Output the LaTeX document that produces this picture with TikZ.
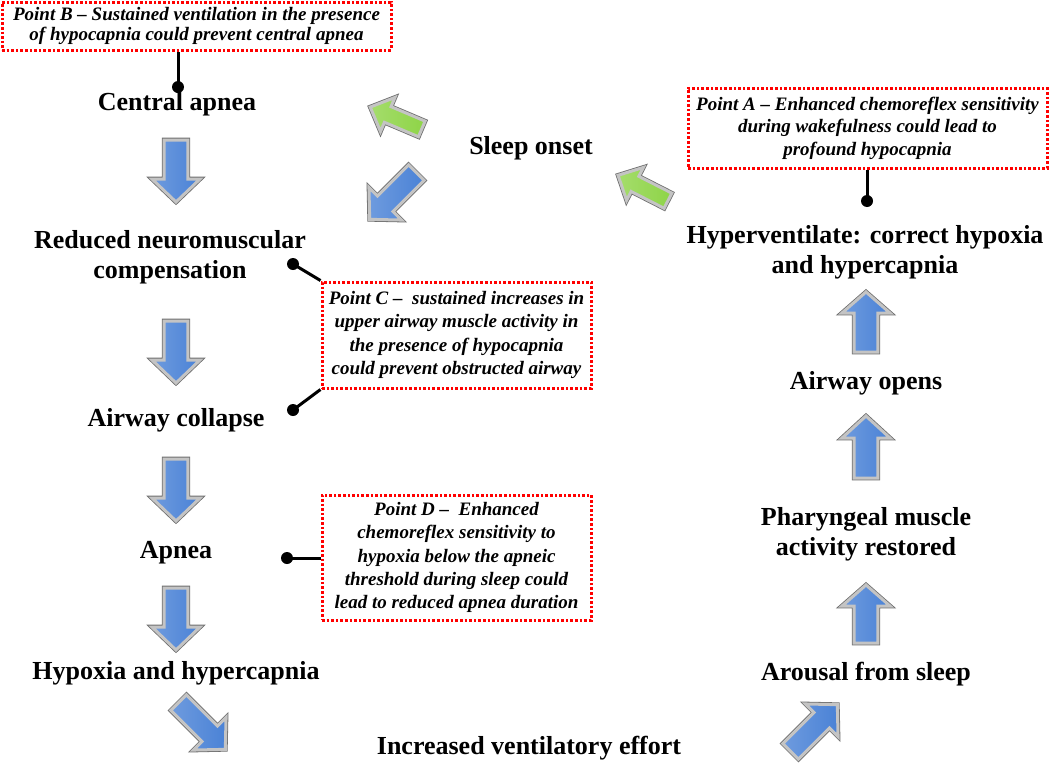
\documentclass[tikz,border=0pt]{standalone}
\usepackage{fontspec}
\setmainfont{Liberation Serif}
\definecolor{abl}{HTML}{4A82D6}
\definecolor{agr}{HTML}{8ED447}
\definecolor{bev}{HTML}{C4C4C4}
\definecolor{bevd}{HTML}{6E6E6E}
\newcommand\myarrow[8]{%
\begin{scope}[shift={(#1,#2)},rotate=#3]
\pgfmathsetmacro\hl{#4/2}\pgfmathsetmacro\hb{#4/2-#7}
\draw[bevd, line width=4.6pt, line join=miter]
 (-\hl,-#5) -- (\hb,-#5) -- (\hb,-#6) -- (\hl,0) -- (\hb,#6) -- (\hb,#5) -- (-\hl,#5) -- cycle;
\path[left color=#8!80!white, right color=#8, draw=bev, line width=3pt, line join=miter]
 (-\hl,-#5) -- (\hb,-#5) -- (\hb,-#6) -- (\hl,0) -- (\hb,#6) -- (\hb,#5) -- (-\hl,#5) -- cycle;
\end{scope}}
\tikzset{
  lbl/.style={font=\fontsize{26}{30}\selectfont\bfseries, align=center, inner sep=0pt},
  pbox/.style={draw=red, line width=3pt, dash pattern=on 2.6pt off 2pt, align=center,
    inner sep=0pt, font=\fontsize{19}{23.4}\selectfont\bfseries\itshape},
  pin/.style={line width=3pt, black},
}
\begin{document}
\begin{tikzpicture}[x=1pt,y=-1pt]
\useasboundingbox (0,0) rectangle (1050,763);
% labels
\node[lbl] (ca) at (177,104) {Central apnea};
\node[lbl] (rn) at (170,257) {Reduced neuromuscular\\compensation};
\node[lbl] (ac) at (176,420) {Airway collapse};
\node[lbl] (ap) at (176,553) {Apnea};
\node[lbl] (hh) at (176,673) {Hypoxia and hypercapnia};
\node[lbl] (ie) at (529,748) {Increased ventilatory effort};
\node[lbl] (as) at (866,674) {Arousal from sleep};
\node[lbl] (pm) at (866,534) {Pharyngeal muscle\\activity restored};
\node[lbl] (ao) at (866,383) {Airway opens};
\node[lbl] (hv) at (865,252) {Hyperventilate: correct hypoxia\\and hypercapnia};
\node[lbl] (so) at (531,148) {Sleep onset};
% boxes
\node[pbox, minimum width=389, minimum height=48, font=\fontsize{19}{20.5}\selectfont\bfseries\itshape] (B) at (196.5,26)
  {\raisebox{-2pt}{Point B -- Sustained ventilation in the presence}\\\raisebox{-2pt}{of hypocapnia could prevent central apnea}};
\node[pbox, minimum width=359, minimum height=80, font=\fontsize{19}{22.5}\selectfont\bfseries\itshape] (A) at (867.5,128)
  {Point A -- Enhanced chemoreflex sensitivity\\during wakefulness could lead to\\profound hypocapnia};
\node[pbox, minimum width=269, minimum height=106] (C) at (456.5,335)
  {Point C -- \ sustained increases in\\upper airway muscle activity in\\the presence of hypocapnia\\could prevent obstructed airway};
\node[pbox, minimum width=269, minimum height=125] (D) at (456.5,557.5)
  {Point D -- \ Enhanced\\chemoreflex sensitivity to\\hypoxia below the apneic\\threshold during sleep could\\lead to reduced apnea duration};
% pins
\coordinate (dB) at (178,87);
\coordinate (dA) at (867,201);
\coordinate (dC1) at (293,264);
\coordinate (dC2) at (293,410);
\coordinate (dD) at (287,558);
\draw[pin] (dB) -- (dB |- B.south);
\draw[pin] (dA) -- (dA |- A.south);
\draw[pin] (dC1) -- (C.north west);
\draw[pin] (dC2) -- (C.south west);
\draw[pin] (dD) -- (dD -| D.west);
\foreach \p in {dB,dA,dC1,dC2,dD} \fill (\p) circle (6);
% block arrows
\myarrow{176}{171}{-90}{62}{11.8}{24}{23}{abl}
\myarrow{176}{352}{-90}{62}{11.8}{24}{23}{abl}
\myarrow{176}{490}{-90}{62}{11.8}{24}{23}{abl}
\myarrow{176}{619}{-90}{62}{11.8}{24}{23}{abl}
\myarrow{866}{322}{90}{60}{11.8}{24}{21}{abl}
\myarrow{866}{447}{90}{62}{11.8}{24}{22}{abl}
\myarrow{866}{614}{90}{58}{11.8}{24}{21}{abl}
\myarrow{393}{196}{225}{66}{11}{23}{22}{abl}
\myarrow{202}{726}{-45}{66}{11}{23}{22}{abl}
\myarrow{814}{728}{45}{66}{11}{23}{22}{abl}
\myarrow{396}{118}{157}{56}{8.5}{18.5}{19}{agr}
\myarrow{643}{188}{153}{56}{8.5}{18.5}{19}{agr}
\end{tikzpicture}
\end{document}
